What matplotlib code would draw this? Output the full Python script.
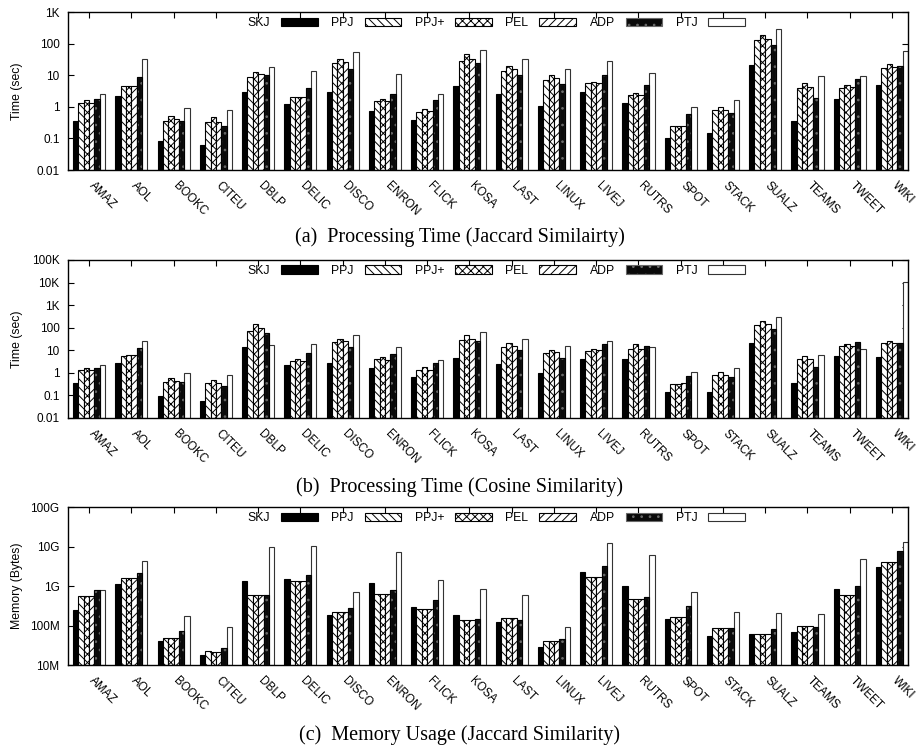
import matplotlib
matplotlib.use("Agg")
import matplotlib.pyplot as plt
import numpy as np
from matplotlib.ticker import FixedLocator, FixedFormatter, NullLocator
from matplotlib.transforms import ScaledTranslation

categories = ['AMAZ', 'AOL', 'BOOKC', 'CITEU', 'DBLP', 'DELIC', 'DISCO', 'ENRON', 'FLICK', 'KOSA',
              'LAST', 'LINUX', 'LIVEJ', 'RUTRS', 'SPOT', 'STACK', 'SUALZ', 'TEAMS', 'TWEET', 'WIKI']
series_names = ['SKJ', 'PPJ', 'PPJ+', 'PEL', 'ADP', 'PTJ']

# (a) Processing time, Jaccard (sec)
jac_skj = [0.36, 2.2, 0.085, 0.063, 2.9, 1.24, 2.9, 0.73, 0.38, 4.6, 2.6, 1.05, 3.0, 1.3, 0.105, 0.148, 21, 0.36, 1.8, 4.8]
jac_ppj = [1.37, 4.4, 0.35, 0.32, 9.1, 2.0, 24, 1.5, 0.71, 29, 14, 7.3, 5.5, 2.3, 0.25, 0.82, 127, 3.9, 3.9, 17]
jac_ppjp = [1.6, 4.6, 0.5, 0.46, 12.7, 2.07, 33, 1.8, 0.84, 48, 20, 10.5, 6.3, 2.8, 0.25, 1.0, 192, 5.5, 4.8, 22]
jac_pel = [1.37, 4.7, 0.41, 0.34, 10.8, 2.07, 26, 1.5, 0.75, 33, 16, 8.0, 5.5, 2.3, 0.25, 0.82, 144, 4.3, 4.1, 18.8]
jac_adp = [1.75, 9.1, 0.35, 0.245, 10, 3.9, 15.5, 2.6, 1.66, 24, 10, 5.2, 10.2, 4.8, 0.59, 0.63, 89, 1.9, 7.5, 19]
jac_ptj = [2.6, 33, 0.95, 0.82, 18.8, 14, 56, 10.8, 2.6, 63, 33, 15.8, 29, 11.8, 1.02, 1.7, 297, 9.3, 9.5, 58]

# (b) Processing time, Cosine (sec)
cos_skj = [0.36, 2.67, 0.097, 0.055, 14, 2.25, 2.67, 1.6, 0.67, 4.6, 2.5, 1.03, 4.1, 4.0, 0.14, 0.14, 20, 0.35, 5.6, 5.1]
cos_ppj = [1.4, 5.8, 0.39, 0.34, 73, 3.5, 24, 3.9, 1.3, 29, 14.5, 7.6, 9.6, 11.8, 0.31, 0.82, 135, 4.1, 15, 20]
cos_ppjp = [1.7, 6.4, 0.56, 0.47, 140, 4.0, 32.6, 5.1, 1.8, 49, 21.7, 10.7, 11, 18.4, 0.31, 1.07, 190, 5.4, 19.7, 26.6]
cos_pel = [1.4, 6.4, 0.44, 0.36, 100, 3.5, 26.7, 3.7, 1.3, 31.5, 15.5, 8.2, 10, 11.8, 0.34, 0.84, 150, 4.3, 15, 21]
cos_adp = [1.7, 13, 0.39, 0.26, 56, 7.6, 14, 6.6, 2.8, 25, 10, 4.7, 18.4, 16, 0.71, 0.64, 84, 1.84, 23.3, 21.7]
cos_ptj = [2.3, 26.7, 0.97, 0.79, 17.8, 18, 49, 14, 3.6, 62, 32.6, 15.5, 26.7, 14.5, 1.1, 1.66, 295, 6.4, 11, 11000]

# (c) Memory usage, Jaccard (MB)
mem_skj = [242, 1100, 40.5, 17.6, 1360, 1530, 181, 1190, 294, 181, 125, 29, 2220, 1020, 143, 55, 61, 68, 840, 2970]
mem_ppj = [558, 1630, 48, 23, 590, 1340, 220, 627, 262, 138, 155, 40.5, 1720, 460, 164, 86.5, 61, 95, 592, 4050]
mem_ppjp = [558, 1630, 48, 22, 590, 1340, 220, 627, 262, 138, 155, 40.5, 1720, 460, 164, 86.5, 61, 95, 592, 4050]
mem_pel = [558, 1630, 48, 22, 590, 1340, 220, 627, 262, 138, 155, 40.5, 1720, 460, 164, 86.5, 63, 95, 592, 4050]
mem_adp = [807, 2170, 74, 27, 590, 1940, 283, 807, 451, 149, 140, 46.5, 3270, 537, 306, 86.5, 83, 91.5, 1000, 7850]
mem_ptj = [807, 4300, 177, 92, 10000, 10500, 720, 7250, 1450, 823, 580, 94, 12300, 6100, 705, 220, 203, 200, 5000, 13000]

time_ticks_a = [0.01, 0.1, 1, 10, 100, 1000]
time_labels_a = ['0.01', '0.1', '1', '10', '100', '1K']
time_ticks_b = [0.01, 0.1, 1, 10, 100, 1e3, 1e4, 1e5]
time_labels_b = ['0.01', '0.1', '1', '10', '100', '1K', '10K', '100K']
mem_ticks = [1e7, 1e8, 1e9, 1e10, 1e11]
mem_labels = ['10M', '100M', '1G', '10G', '100G']

captions = ['(a)  Processing Time (Jaccard Similairty)',
            '(b)  Processing Time (Cosine Similarity)',
            '(c)  Memory Usage (Jaccard Similarity)']

plt.rcParams['font.family'] = ['Liberation Sans', 'DejaVu Sans']
plt.rcParams['hatch.linewidth'] = 0.7

styles = [
    dict(facecolor='black', edgecolor='black', hatch=None),
    dict(facecolor='white', edgecolor='black', hatch='\\\\\\\\'),
    dict(facecolor='white', edgecolor='black', hatch='xxxx'),
    dict(facecolor='white', edgecolor='black', hatch='////'),
    dict(facecolor='#0a0a0a', edgecolor='#6a6a6a', hatch='..'),
    dict(facecolor='white', edgecolor='#333333', hatch=None),
]

fig = plt.figure(figsize=(9.19, 7.49), dpi=100)

panels = [
    ([jac_skj, jac_ppj, jac_ppjp, jac_pel, jac_adp, jac_ptj], 1.0, (0.01, 1000), time_ticks_a, time_labels_a, 'Time (sec)', 0.773),
    ([cos_skj, cos_ppj, cos_ppjp, cos_pel, cos_adp, cos_ptj], 1.0, (0.01, 1e5), time_ticks_b, time_labels_b, 'Time (sec)', 0.442),
    ([mem_skj, mem_ppj, mem_ppjp, mem_pel, mem_adp, mem_ptj], 1e6, (1e7, 1e11), mem_ticks, mem_labels, 'Memory (Bytes)', 0.112),
]
caption_y = [0.684, 0.350, 0.019]

x = np.arange(len(categories))
bw = 0.127
left = 68 / 919
width = 840 / 919
height = 158 / 749

for pi, (data, scale, ylim, yt, ytl, ylab, bottom) in enumerate(panels):
    ax = fig.add_axes([left, bottom, width, height])
    ax.set_yscale('log')
    handles = []
    floor = ylim[0]
    for si, (vals, st) in enumerate(zip(data, styles)):
        v = np.array(vals, dtype=float) * scale
        pos = x + (si - 2.5) * bw
        b = ax.bar(pos, v - floor, width=bw, bottom=floor, facecolor=st['facecolor'],
                   edgecolor=st['edgecolor'], hatch=st['hatch'], linewidth=0.8,
                   label=series_names[si], zorder=2)
        if si == 4:
            ax.bar(pos, v - floor, width=bw, bottom=floor, fill=False, edgecolor='black',
                   linewidth=0.8, zorder=3)
        handles.append(b)
    ax.set_ylim(*ylim)
    ax.set_xlim(-0.5, 19.38)
    ax.yaxis.set_major_locator(FixedLocator(yt))
    ax.yaxis.set_major_formatter(FixedFormatter(ytl))
    ax.yaxis.set_minor_locator(NullLocator())
    ax.set_xticks(x)
    ax.set_xticklabels(categories, rotation=-45, ha='left', va='top', rotation_mode='anchor')
    ax.tick_params(axis='both', direction='in', length=4, width=0.8, top=True, right=True,
                   labelsize=8.5, pad=6)
    ax.tick_params(axis='x', pad=7)
    for lab in ax.get_xticklabels():
        lab.set_transform(lab.get_transform() + ScaledTranslation(6 / 100, 0, fig.dpi_scale_trans))
    for sp in ax.spines.values():
        sp.set_linewidth(1.0)
    ax.set_ylabel(ylab, fontsize=8.8)
    ax.yaxis.set_label_coords(-0.054, 0.5)
    ax.legend(handles=handles, ncol=6, loc='upper center', bbox_to_anchor=(0.51, 1.0),
              frameon=False, markerfirst=False, fontsize=8.8, handlelength=3.0,
              handleheight=0.65, handletextpad=0.9, columnspacing=1.1, borderaxespad=0.2,
              borderpad=0.2)
    fig.text(0.5, caption_y[pi], captions[pi], ha='center', va='center', fontsize=14.5,
             family=['Liberation Serif', 'DejaVu Serif'])

fig.savefig('out.png', dpi=100)
